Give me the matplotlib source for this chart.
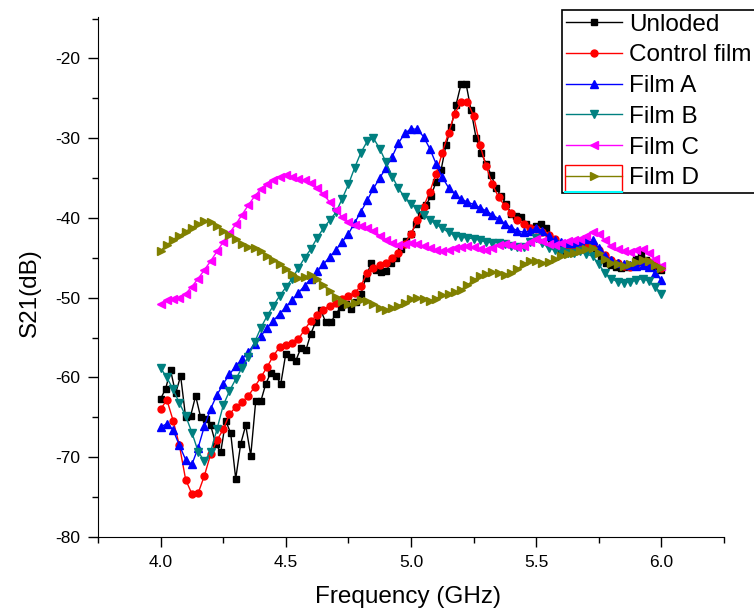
import numpy as np
import matplotlib.pyplot as plt
from matplotlib.patches import Rectangle
from matplotlib.lines import Line2D
from matplotlib.ticker import MultipleLocator, FormatStrFormatter

plt.rcParams['font.family'] = ['Liberation Sans', 'DejaVu Sans']
plt.rcParams['axes.unicode_minus'] = False

# frecuencias (GHz)
f_025 = np.round(np.arange(0, 81) * 0.025 + 4.0, 3)
f_02 = np.round(np.arange(0, 101) * 0.02 + 4.0, 3)

# Unloded, paso 0.02 GHz
unloded = [-62.7, -61.4, -59.1, -62.0, -59.8, -65.0, -64.8, -62.3, -65.0, -65.2,
           -66.0, -68.3, -69.4, -65.4, -67.0, -72.7, -68.3, -66.0, -69.8, -62.9,
           -63.0, -60.8, -59.4, -59.8, -60.8, -57.0, -57.4, -57.9, -56.3, -56.6,
           -54.5, -53.0, -51.6, -53.1, -53.1, -52.0, -51.2, -50.8, -51.4, -50.5,
           -49.5, -47.5, -45.7, -46.5, -46.8, -46.6, -45.6, -45.0, -43.9, -42.9,
           -42.0, -40.7, -39.6, -38.4, -37.2, -35.5, -34.0, -30.8, -28.6, -25.8,
           -23.2, -23.2, -26.5, -30.0, -31.8, -33.2, -34.6, -36.2, -37.3, -38.2,
           -39.5, -39.7, -39.9, -40.8, -41.3, -41.0, -40.7, -41.2, -42.8, -43.7,
           -44.0, -44.1, -43.8, -43.6, -43.4, -43.2, -43.2, -44.2, -45.0, -45.6,
           -45.9, -46.2, -46.3, -46.2, -46.0, -45.2, -44.5, -45.3, -46.2, -46.0,
           -46.5]

# el resto, paso 0.025 GHz
control = [-64.0, -62.8, -65.4, -68.5, -72.8, -74.6, -74.5, -72.3, -69.6, -67.9,
           -66.5, -64.6, -63.7, -63.1, -62.3, -61.2, -60.0, -58.7, -57.3, -56.2,
           -55.9, -55.7, -55.2, -54.0, -52.9, -52.2, -51.5, -51.0, -50.6, -50.2,
           -49.8, -49.4, -48.5, -46.9, -46.3, -45.9, -45.6, -45.0, -44.4, -43.2,
           -42.0, -40.3, -38.6, -36.7, -34.5, -31.8, -29.3, -26.9, -25.5, -25.4,
           -27.2, -30.8, -33.5, -35.8, -37.4, -38.5, -39.4, -40.2, -40.8, -41.2,
           -41.4, -41.7, -42.1, -42.6, -43.4, -44.0, -44.1, -43.8, -43.4, -43.3,
           -44.0, -44.7, -45.3, -45.7, -46.0, -46.1, -45.8, -45.5, -45.5, -45.8,
           -46.3]

film_a = [-66.2, -65.8, -66.6, -68.5, -70.3, -70.9, -68.8, -66.1, -63.9, -62.2,
          -60.8, -59.6, -58.6, -57.7, -56.8, -55.8, -54.8, -53.8, -52.9, -52.0,
          -51.2, -50.3, -49.4, -48.5, -47.6, -46.7, -45.8, -44.9, -44.0, -43.0,
          -42.0, -40.6, -39.2, -37.8, -36.3, -35.0, -33.7, -32.3, -30.6, -29.4,
          -28.8, -28.9, -29.8, -31.3, -33.2, -34.9, -36.2, -37.0, -37.6, -38.0,
          -38.3, -38.7, -39.1, -39.6, -40.1, -40.7, -41.2, -41.6, -41.8, -41.6,
          -41.3, -41.6, -42.3, -42.8, -43.0, -43.1, -43.1, -42.9, -42.6, -42.8,
          -43.8, -44.8, -45.3, -45.6, -45.8, -45.9, -46.0, -45.9, -46.2, -46.9,
          -47.8]

film_b = [-58.8, -60.0, -61.5, -63.2, -64.8, -66.9, -69.3, -70.5, -69.3, -66.5,
          -63.5, -61.7, -60.2, -58.8, -57.4, -55.6, -53.8, -52.3, -51.0, -49.8,
          -48.7, -47.6, -46.3, -45.0, -43.9, -42.5, -41.3, -40.3, -39.3, -37.6,
          -35.8, -33.7, -31.8, -30.4, -30.0, -31.3, -33.0, -34.8, -36.3, -37.4,
          -38.2, -38.9, -39.6, -40.2, -40.8, -41.3, -41.8, -42.2, -42.4, -42.5,
          -42.6, -42.8, -43.0, -43.1, -43.1, -43.2, -43.5, -43.7, -43.6, -43.0,
          -42.5, -43.1, -43.8, -44.0, -44.2, -44.4, -44.4, -44.2, -44.5, -44.8,
          -45.8, -46.9, -47.6, -48.0, -48.1, -48.0, -47.8, -47.6, -47.9, -48.6,
          -49.5]

film_c = [-50.8, -50.3, -50.2, -50.0, -49.5, -48.6, -47.6, -46.5, -45.4, -44.2,
          -43.0, -41.9, -40.8, -39.6, -38.4, -37.3, -36.4, -35.7, -35.2, -34.9,
          -34.6, -34.8, -35.1, -35.3, -35.6, -36.2, -37.0, -38.0, -39.0, -39.9,
          -40.5, -40.9, -41.0, -41.2, -41.6, -42.2, -42.7, -43.1, -43.4, -43.3,
          -43.1, -43.2, -43.5, -43.8, -44.0, -44.1, -44.0, -43.8, -43.6, -43.5,
          -43.7, -43.9, -44.0, -43.8, -43.4, -43.2, -43.4, -43.6, -43.5, -43.0,
          -42.6, -42.9, -43.3, -43.4, -43.1, -42.9, -42.8, -42.6, -42.2, -41.7,
          -42.0, -42.8, -43.5, -43.9, -44.2, -44.3, -44.0, -43.9, -44.4, -45.2,
          -46.0]

film_d = [-44.1, -43.4, -42.7, -42.2, -41.7, -41.2, -40.8, -40.4, -40.5, -41.0,
          -41.6, -42.1, -42.6, -43.2, -43.6, -43.8, -44.2, -44.8, -45.3, -45.8,
          -46.4, -47.0, -47.5, -47.4, -47.2, -47.6, -48.4, -49.2, -49.9, -50.4,
          -50.8, -50.6, -50.3, -50.4, -50.8, -51.3, -51.5, -51.3, -51.0, -50.6,
          -50.2, -50.0, -50.2, -50.4, -50.1, -49.7, -49.5, -49.3, -49.0, -48.4,
          -47.8, -47.3, -47.0, -46.8, -46.9, -47.1, -46.9, -46.4, -45.8, -45.4,
          -45.4, -45.6, -45.5, -45.2, -44.8, -44.5, -44.4, -44.2, -43.9, -43.8,
          -44.4, -45.2, -45.6, -45.8, -46.0, -45.8, -45.5, -45.3, -45.4, -45.9,
          -46.3]

fig = plt.figure(figsize=(7.54, 6.15), dpi=100)
ax = fig.add_axes([98 / 754, 1 - 537 / 615, 626 / 754, 520 / 615])

ax.plot(f_02, unloded, color='black', marker='s', ms=5, lw=1, label='Unloded')
ax.plot(f_025, control, color='red', marker='o', ms=5, lw=1, label='Control film')
ax.plot(f_025, film_a, color='blue', marker='^', ms=5.5, lw=1, label='Film A')
ax.plot(f_025, film_b, color='#008080', marker='v', ms=5.5, lw=1, label='Film B')
ax.plot(f_025, film_c, color='magenta', marker='<', ms=5.5, lw=1, label='Film C')
ax.plot(f_025, film_d, color='#808000', marker='>', ms=5.5, lw=1, label='Film D')

ax.set_xlim(3.75, 6.25)
ax.set_ylim(-80, -14.8)
ax.xaxis.set_major_locator(MultipleLocator(0.5))
ax.xaxis.set_minor_locator(MultipleLocator(0.25))
ax.yaxis.set_major_locator(MultipleLocator(10))
ax.yaxis.set_minor_locator(MultipleLocator(5))
ax.xaxis.set_major_formatter(FormatStrFormatter('%.1f'))
ax.yaxis.set_major_formatter(FormatStrFormatter('%d'))
ax.spines['top'].set_visible(False)
ax.spines['right'].set_visible(False)
ax.tick_params(which='major', direction='out', length=7, width=1, labelsize=12.5, pad=6)
ax.tick_params(which='minor', direction='out', length=4, width=1)

ax.set_xlabel('Frequency (GHz)', fontsize=17.5)
ax.set_ylabel('S21(dB)', fontsize=17.5)
ax.xaxis.set_label_coords(0.495, -0.095)
ax.yaxis.set_label_coords(-0.092, 0.47)

leg = ax.legend(loc='upper left', bbox_to_anchor=(562 / 754, 1 - 10 / 615),
                bbox_transform=fig.transFigure, fontsize=17.5, numpoints=1,
                fancybox=False, framealpha=1, edgecolor='black',
                handlelength=2.3, handletextpad=0.3, labelspacing=0.36,
                borderpad=0.15, borderaxespad=0)
leg.get_frame().set_linewidth(1.2)

# el recuadrito rojo y la raya cian que salen en la leyenda original
fig.patches.append(Rectangle((565 / 754, 1 - 192 / 615), 57 / 754, 27 / 615,
                             transform=fig.transFigure, fill=False,
                             edgecolor='red', lw=1, zorder=10))
fig.lines.append(Line2D([565 / 754, 622 / 754], [1 - 192 / 615, 1 - 192 / 615],
                        transform=fig.transFigure, color='cyan', lw=1.5, zorder=11))

fig.savefig('out.png', dpi=100)
